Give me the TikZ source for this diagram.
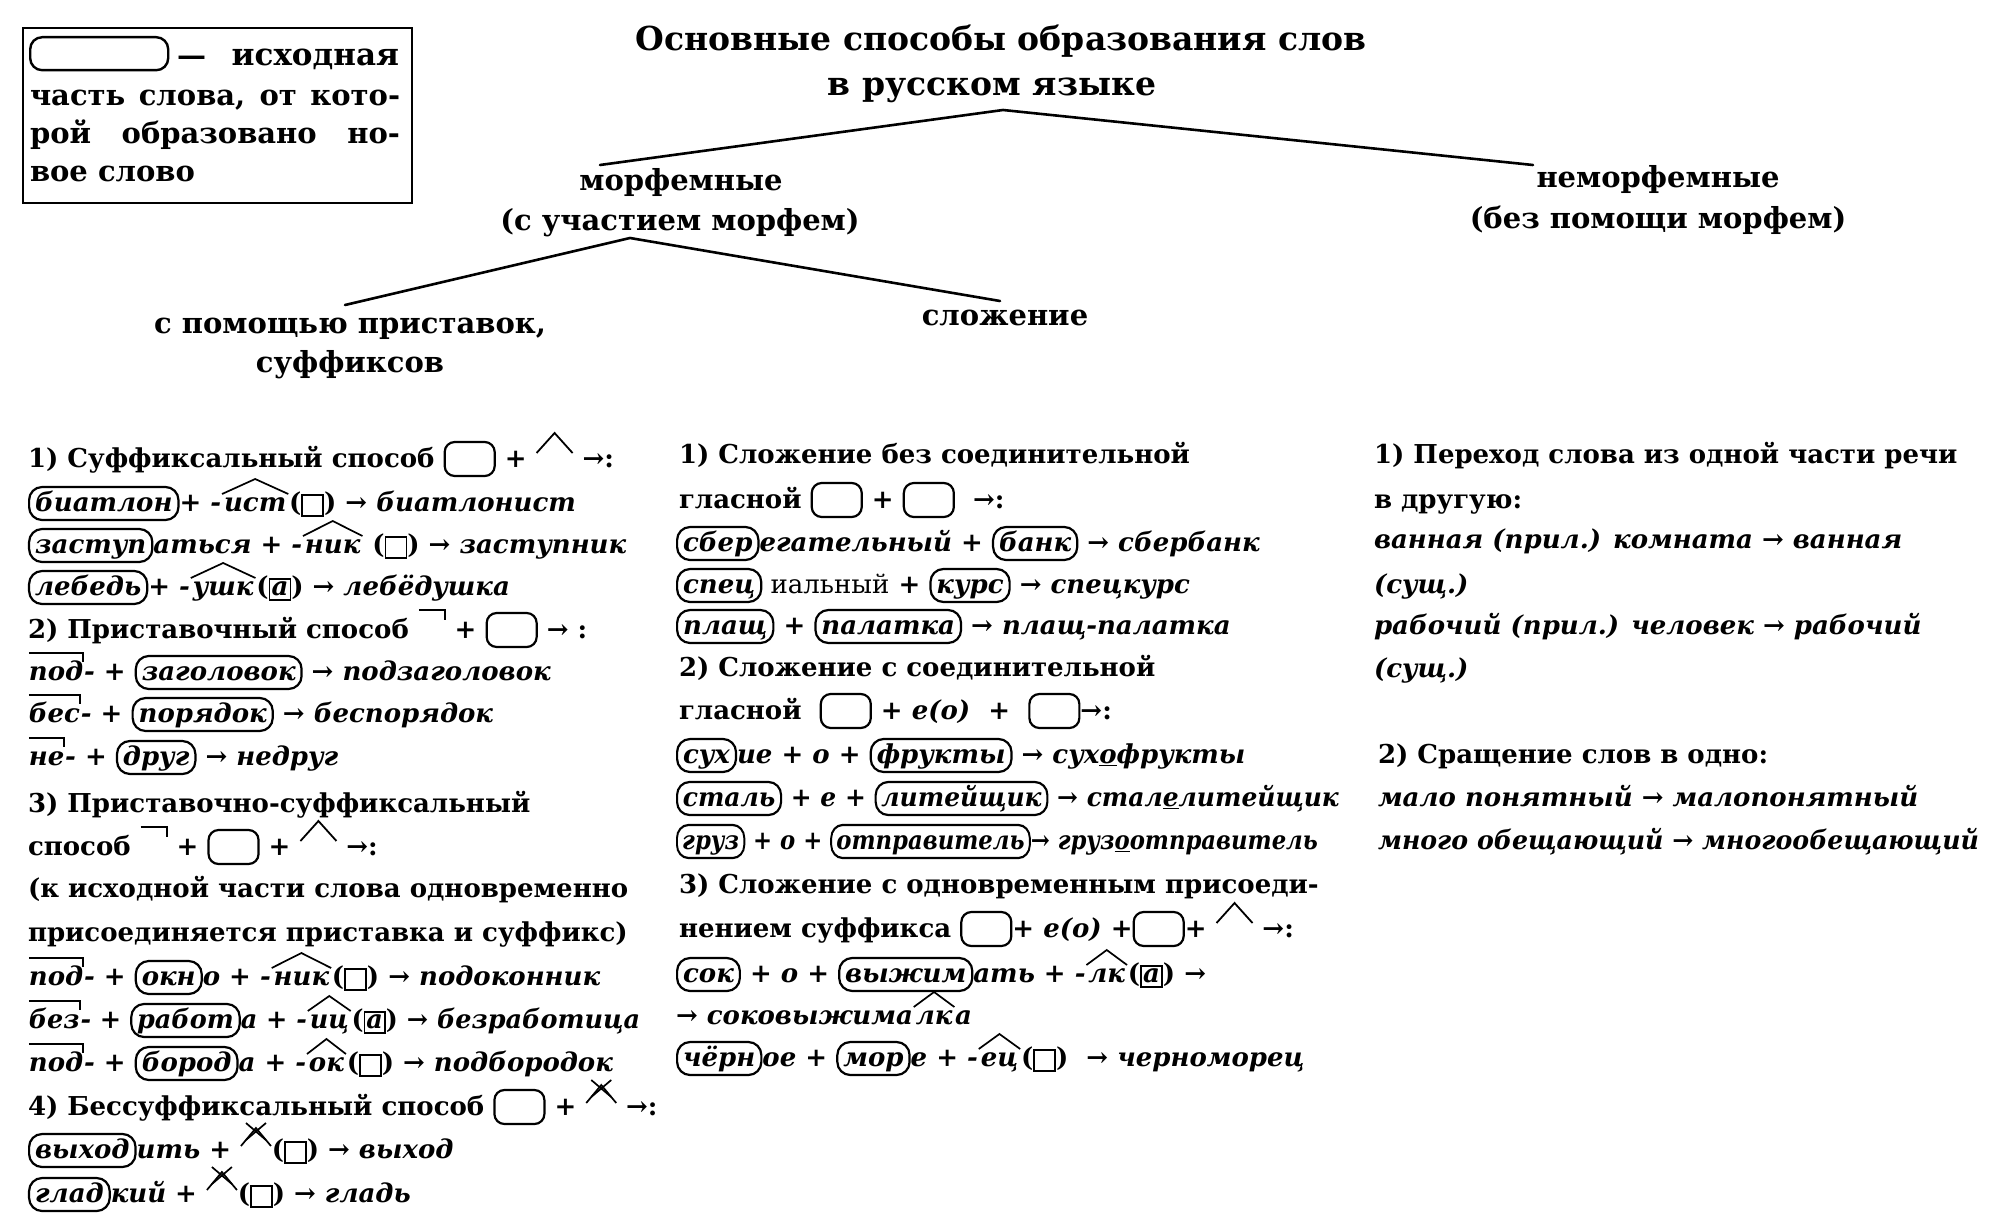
\documentclass[tikz,border=0pt]{standalone}
\usepackage{fontspec}
\usepackage{graphicx}
\setmainfont{DejaVu Serif}
\newcommand\bsz{\fontsize{26}{31}\selectfont}
\newcommand\Rt[1]{\tikz[baseline=(rtx.base)]\node[draw,line width=2.2pt,rounded corners=13pt,anchor=base,inner xsep=6pt,inner ysep=2pt,text height=22pt,text depth=7pt,outer sep=0pt](rtx){#1};}
\newcommand\Ro{\tikz[baseline=0pt]\draw[line width=2.2pt,rounded corners=10pt] (0pt,-9pt) rectangle (50pt,25pt);}
\newcommand\Ho{\tikz[baseline=0pt]\draw[line width=1.8pt] (0pt,14pt) -- (18pt,34pt) -- (36pt,14pt);}
\newcommand\Po{\tikz[baseline=0pt]\draw[line width=1.8pt] (0pt,28pt) -- (26pt,28pt) -- (26pt,18pt);}
\newcommand\Zs{\tikz[baseline=0pt]{\draw[line width=1.7pt] (0pt,12pt) -- (15pt,30pt) -- (30pt,12pt); \draw[line width=1.7pt] (5pt,35pt) -- (25pt,18pt) (5pt,18pt) -- (25pt,35pt);}}
\newcommand\Ht[1]{\tikz[baseline=(htx.base)]{\node[anchor=base,inner sep=0pt,outer sep=0pt,text height=17pt,text depth=6pt](htx){#1};\draw[line width=1.7pt] ([xshift=-2pt]htx.north west) -- ([yshift=15pt]htx.north) -- ([xshift=2pt]htx.north east);}}
\newcommand\Pf[1]{\tikz[baseline=(pfx.base)]{\node[anchor=base,inner sep=0pt,outer sep=0pt,text height=27pt,text depth=6pt](pfx){#1};\draw[line width=1.7pt] (pfx.north west) -- (pfx.north east) -- ([yshift=-9pt]pfx.north east);}}
\newcommand\En[1]{{\upshape(}\tikz[baseline=(enx.base)]\node[draw,line width=1.7pt,anchor=base,inner sep=2pt,text height=14pt,text depth=3pt,minimum width=21pt,outer sep=0pt](enx){#1};{\upshape)}}
\begin{document}
\begin{tikzpicture}[x=1pt,y=-1pt,
 txt/.style={anchor=base west,inner sep=0pt,outer sep=0pt,font=\bsz\bfseries},
 ex/.style={txt,font=\bsz\bfseries\itshape},
 lgd/.style={txt,font=\fontsize{29}{34}\selectfont\bfseries},
 ttl/.style={anchor=base,inner sep=0pt,outer sep=0pt,font=\fontsize{33}{38}\selectfont\bfseries},
 lvl/.style={anchor=base,inner sep=0pt,outer sep=0pt,font=\fontsize{29}{34}\selectfont\bfseries},
 tree/.style={line width=2.6pt,line cap=round}]
\fill[white] (0,0) rectangle (2000,1220);
\useasboundingbox (0,0) rectangle (2000,1220);
% legend
\draw[line width=2pt] (23,28) rectangle (412,203);
\node[draw,rounded corners=12pt,line width=2.4pt,minimum width=138pt,minimum height=33pt,anchor=north west,inner sep=0pt] (lgo) at (29,36) {};
\node[lgd] (lg1) at (177,66) {\makebox[222pt][s]{—\hspace{0.4em plus 0.5fil}{\fontsize{31}{34}\selectfont исходная}}};
\node[lgd] (lg2) at (30,106) {\makebox[370pt][s]{часть слова, от кото-}};
\node[lgd] (lg3) at (30,144) {\makebox[370pt][s]{рой образовано но-}};
\node[lgd] (lg4) at (30,182) {вое слово};
% tree
\node[ttl] (t1) at (1001,51) {Основные способы образования слов};
\node[ttl] (t2) at (992,96) {в русском языке};
\node[lvl] (mo1) at (681,190) {морфемные};
\node[lvl] (mo2) at (680,230) {(с участием морфем)};
\node[lvl] (nm1) at (1658,187) {неморфемные};
\node[lvl] (nm2) at (1658,228) {(без помощи морфем)};
\node[lvl] (af1) at (350,333) {с помощью приставок,};
\node[lvl] (af2) at (350,372) {суффиксов};
\node[lvl] (sl) at (1005,325) {сложение};
\coordinate (ap1) at (1003,110);
\coordinate (ap2) at (630,238);
\coordinate (e1) at (600,165);
\coordinate (e2) at (1533,165);
\coordinate (e3) at (345,305);
\coordinate (e4) at (1000,301);
\draw[tree] (e1) -- (ap1) -- (e2);
\draw[tree] (e3) -- (ap2) -- (e4);
% left column
\node[txt] (l1) at (28,467) {1) Суффиксальный способ \Ro\ + \Ho\ →:};
\node[ex] (l2) at (28,511) {\Rt{биатлон}+ -\Ht{ист}\En{} → биатлонист};
\node[ex] (l3) at (28,553) {\Rt{заступ}аться + -\Ht{ник} \En{} → заступник};
\node[ex] (l4) at (28,595) {\Rt{лебедь}+ -\Ht{ушк}\En{а} → лебёдушка};
\node[txt] (l5) at (28,638) {2) Приставочный способ \Po\ + \Ro\ → :};
\node[ex] (l6) at (28,680) {\Pf{под}- + \Rt{заголовок} → подзаголовок};
\node[ex] (l7) at (28,722) {\Pf{бес}- + \Rt{порядок} → беспорядок};
\node[ex] (l8) at (28,765) {\Pf{не}- + \Rt{друг} → недруг};
\node[txt] (l9) at (28,812) {3) Приставочно-суффиксальный};
\node[txt] (l10) at (28,855) {способ \Po\ + \Ro\ + \Ho\ →:};
\node[txt] (l11) at (28,897) {(к исходной части слова одновременно};
\node[txt] (l12) at (28,941) {присоединяется приставка и суффикс)};
\node[ex] (l13) at (28,985) {\Pf{под}- + \Rt{окн}о + -\Ht{ник}\En{} → подоконник};
\node[ex] (l14) at (28,1028) {\scalebox{0.98}[1]{\Pf{без}- + \Rt{работ}а + -\Ht{иц}\En{а} → безработица}};
\node[ex] (l15) at (28,1071) {\Pf{под}- + \Rt{бород}а + -\Ht{ок}\En{} → подбородок};
\node[txt] (l16) at (28,1115) {4) Бессуффиксальный способ \Ro\ + \Zs\ →:};
\node[ex] (l17) at (28,1158) {\Rt{выход}ить + \Zs\En{} → выход};
\node[ex] (l18) at (28,1202) {\Rt{глад}кий + \Zs\En{} → гладь};
% middle column
\node[txt] (m1) at (679,463) {1) Сложение без соединительной};
\node[txt] (m2) at (679,508) {гласной \Ro\ + \Ro\ \ →:};
\node[ex] (m3) at (676,551) {\Rt{сбер}егательный + \Rt{банк} → сбербанк};
\node[ex] (m4) at (676,593) {\Rt{спец}{\normalfont\ иальный} + \Rt{курс} → спецкурс};
\node[ex] (m5) at (676,634) {\Rt{плащ} + \Rt{палатка} → плащ-палатка};
\node[txt] (m6) at (679,676) {2) Сложение с соединительной};
\node[txt] (m7) at (679,719) {гласной \ \Ro\ + {\itshape е(о)} \ + \ \Ro→:};
\node[ex] (m8) at (676,763) {\Rt{сух}ие + о + \Rt{фрукты} → сух\underline{о}фрукты};
\node[ex] (m9) at (676,806) {\scalebox{0.96}[1]{\Rt{сталь} + е + \Rt{литейщик} → стал\underline{е}литейщик}};
\node[ex] (m10) at (676,849) {\scalebox{0.875}[1]{\Rt{груз} + о + \Rt{отправитель}→ груз\underline{о}отправитель}};
\node[txt] (m11) at (679,893) {3) Сложение с одновременным присоеди-};
\node[txt] (m12) at (679,937) {нением суффикса \Ro+ {\itshape е(о)} +\Ro+ \Ho\ →:};
\node[ex] (m13) at (676,982) {\Rt{сок} + о + \Rt{выжим}ать + -\Ht{лк}\En{а} →};
\node[ex] (m14) at (676,1024) {→ соковыжима\Ht{лк}а};
\node[ex] (m15) at (676,1066) {\Rt{чёрн}ое + \Rt{мор}е + -\Ht{ец}\En{} \ → черноморец};
% right column
\node[txt] (r1) at (1374,463) {1) Переход слова из одной части речи};
\node[txt] (r2) at (1374,508) {в другую:};
\node[ex] (r3) at (1374,548) {ванная (прил.) комната → ванная};
\node[ex] (r4) at (1374,593) {(сущ.)};
\node[ex] (r5) at (1374,634) {рабочий (прил.) человек → рабочий};
\node[ex] (r6) at (1374,677) {(сущ.)};
\node[txt] (r7) at (1378,763) {2) Сращение слов в одно:};
\node[ex] (r8) at (1378,806) {мало понятный → малопонятный};
\node[ex] (r9) at (1378,849) {\scalebox{0.97}[1]{много обещающий → многообещающий}};
\end{tikzpicture}
\end{document}
